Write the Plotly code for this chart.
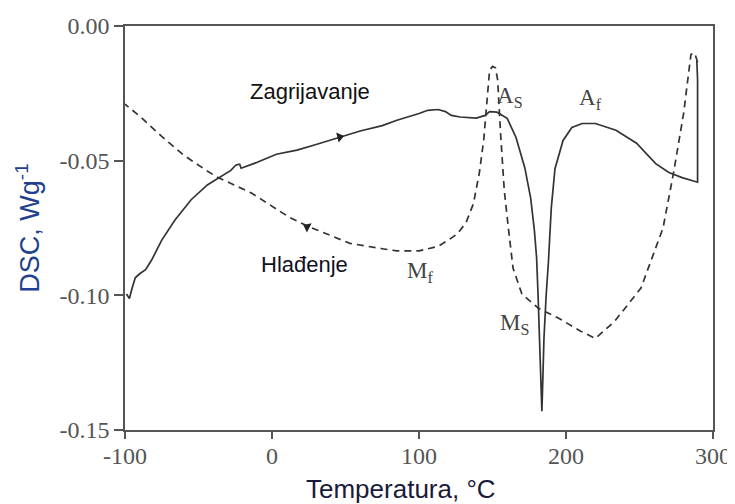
import plotly.graph_objects as go

# heating curve (solid)
heat_t = [-99, -97, -95, -93, -90, -86, -82, -75, -66, -55, -44, -35, -28, -24.5, -22, -21,
          -10, 3, 12, 17, 30, 46, 60, 75, 85, 100, 106, 113, 118, 122, 128, 139, 145, 148,
          153, 160, 166, 172, 176, 178.5, 180, 181, 182, 183, 183.6, 184.3, 185, 186.5, 188,
          190, 192.5, 198, 204, 211, 220, 234, 248, 261, 270, 279, 289.5, 289.5, 289]
heat_dsc = [-0.0995, -0.1012, -0.0970, -0.0935, -0.0920, -0.0905, -0.0870, -0.0795, -0.0720,
            -0.0645, -0.0590, -0.0561, -0.0536, -0.0516, -0.0513, -0.0528, -0.0506, -0.0476,
            -0.0466, -0.0461, -0.0440, -0.0413, -0.0390, -0.0370, -0.0350, -0.0325, -0.0313,
            -0.0310, -0.0318, -0.0332, -0.0338, -0.0342, -0.0332, -0.0318, -0.0320, -0.0343,
            -0.0414, -0.0527, -0.0640, -0.0760, -0.0860, -0.1000, -0.1150, -0.1300, -0.1430,
            -0.1300, -0.1160, -0.1000, -0.0880, -0.0675, -0.0530, -0.0425, -0.0377, -0.0362,
            -0.0362, -0.0387, -0.0435, -0.0511, -0.0544, -0.0563, -0.0580, -0.0200, -0.0130]

# cooling curve (dashed)
cool_t = [289.5, 287.5, 285, 280, 273, 266, 251, 233, 220, 210, 195, 181, 170, 164, 161, 158,
          155.5, 153.5, 152, 150, 148, 146, 144, 141, 137, 132, 126, 120, 113, 100, 85, 75,
          53, 25, 12, -14, -37, -45, -60, -75, -90, -100]
cool_dsc = [-0.0134, -0.0100, -0.0105, -0.0325, -0.0550, -0.0750, -0.0973, -0.1097, -0.1160,
            -0.1133, -0.1085, -0.1047, -0.0995, -0.0900, -0.0760, -0.0610, -0.0400, -0.0200,
            -0.0155, -0.0150, -0.0165, -0.0300, -0.0425, -0.0547, -0.0660, -0.0730, -0.0772,
            -0.0795, -0.0818, -0.0835, -0.0835, -0.0827, -0.0807, -0.0745, -0.0711, -0.0620,
            -0.0562, -0.0535, -0.0480, -0.0410, -0.0335, -0.0290]

x_ticks = [-100, 0, 100, 200, 300]
x_labels = ['-100', '0', '100', '200', '300']
y_ticks = [0, -0.05, -0.10, -0.15]
y_labels = ['0.00', '-0.05', '-0.10', '-0.15']

labels = ['A<sub>S</sub>', 'A<sub>f</sub>', 'M<sub>f</sub>', 'M<sub>S</sub>']
label_t = [162, 217, 101, 165]
label_dsc = [-0.0262, -0.0272, -0.0915, -0.1105]

serif = 'Liberation Serif, Times New Roman'
sans = 'Liberation Sans, Arial'

fig = go.Figure()

fig.add_trace(go.Scatter(x=heat_t, y=heat_dsc, mode='lines',
                         line=dict(color='#333333', width=1.7)))
fig.add_trace(go.Scatter(x=cool_t, y=cool_dsc, mode='lines',
                         line=dict(color='#333333', width=1.7, dash='7px,5px')))

# direction arrows
fig.add_trace(go.Scatter(x=[46], y=[-0.0412], mode='markers',
                         marker=dict(symbol='triangle-up', size=9, angle=76, color='#222222')))
fig.add_trace(go.Scatter(x=[24], y=[-0.0746], mode='markers',
                         marker=dict(symbol='triangle-up', size=9, angle=-63, color='#222222')))

fig.add_annotation(x=26, y=-0.0245, text='Zagrijavanje', showarrow=False,
                   font=dict(family=sans, size=22, color='#111111'))
fig.add_annotation(x=22, y=-0.0887, text='Hlađenje', showarrow=False,
                   font=dict(family=sans, size=22, color='#111122'))

for txt, t, d in zip(labels, label_t, label_dsc):
    fig.add_annotation(x=t, y=d, text=txt, showarrow=False,
                       font=dict(family=serif, size=23, color='#444444'))

# x axis title sits a bit left of the plot centre in the original
fig.add_annotation(x=0.469, y=-0.145, xref='paper', yref='paper', yanchor='middle',
                   text='Temperatura, °C', showarrow=False,
                   font=dict(family=sans, size=26, color='#1a1a3a'))

fig.update_xaxes(range=[-100, 300], tickvals=x_ticks, ticktext=x_labels, automargin=False,
                 showline=True, linecolor='#555555', linewidth=1.5, mirror=True,
                 ticks='outside', ticklen=7, tickcolor='#555555', tickwidth=1.5,
                 ticklabelstandoff=-4, showgrid=False, zeroline=False,
                 tickfont=dict(family=serif, size=24, color='#555555'))
fig.update_yaxes(range=[-0.15, 0], tickvals=y_ticks, ticktext=y_labels, automargin=False,
                 showline=True, linecolor='#555555', linewidth=1.5, mirror=True,
                 ticks='outside', ticklen=9, tickcolor='#555555', tickwidth=1.5,
                 showgrid=False, zeroline=False,
                 tickfont=dict(family=serif, size=24, color='#555555'),
                 title=dict(text='DSC, Wg<sup>-1</sup>', standoff=12,
                            font=dict(family=sans, size=27, color='#1f3f8f')))

fig.update_layout(width=735, height=504, showlegend=False,
                  plot_bgcolor='white', paper_bgcolor='white',
                  margin=dict(l=117, r=30, t=18, b=82))

fig.write_html("out.html")
